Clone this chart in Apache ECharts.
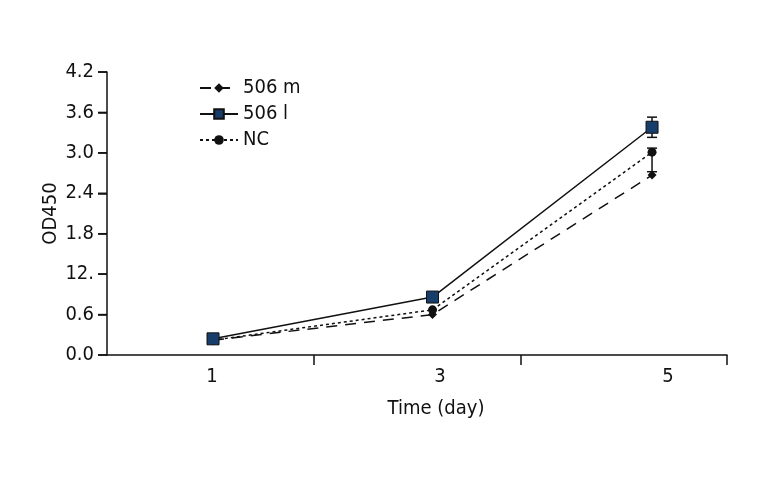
<!DOCTYPE html>
<html>
<head>
<meta charset="utf-8">
<script src="https://cdn.jsdelivr.net/npm/echarts@6/dist/echarts.min.js"></script>
<style>html,body{margin:0;padding:0;background:#fff}#c{width:768px;height:480px}</style>
</head>
<body>
<div id="c"></div>
<script>
// ---- data ----
const days = [1, 3, 5];
const xTickLabels = ['1', '3', '5'];
const yTickValues = [0, 0.6, 1.2, 1.8, 2.4, 3.0, 3.6, 4.2];
const yTickLabels = ['0.0', '0.6', '12.', '1.8', '2.4', '3.0', '3.6', '4.2'];
const seriesNames = ['506 m', '506 l', 'NC'];
const val506m = [0.22, 0.60, 2.67];
const val506l = [0.24, 0.86, 3.38];
const valNC = [0.22, 0.67, 3.01];
const err506lLow = [null, null, 3.23];
const err506lHigh = [null, null, 3.53];
const errNCLow = [null, null, 2.72];
const errNCHigh = [null, null, 3.07];

const FONT = "'Liberation Sans Narrow', 'DejaVu Sans Condensed', 'Arial Narrow', sans-serif";
const FS = 20;
const BLACK = '#111';

function pairs(vals) { return days.map((d, i) => [d, vals[i]]); }
function errData(lo, hi) {
  const out = [];
  days.forEach((d, i) => { if (lo[i] != null && hi[i] != null) out.push([d, lo[i], hi[i]]); });
  return out;
}

const chart = echarts.init(document.getElementById('c'), null, {renderer: 'canvas'});
const option = {
  backgroundColor: '#fff',
  animation: false,
  textStyle: {fontFamily: FONT},
  grid: {left: 107, right: 41, top: 72, bottom: 125},
  legend: {
    data: seriesNames,
    orient: 'vertical',
    left: 194,
    top: 73,
    itemWidth: 38,
    itemHeight: 12,
    itemGap: 6,
    textStyle: {fontFamily: FONT, fontSize: FS, color: BLACK}
  },
  xAxis: [
    {
      type: 'category',
      position: 'bottom',
      data: ['a', 'b', 'c'],
      boundaryGap: true,
      axisLine: {show: true, onZero: false, lineStyle: {color: BLACK, width: 1.5}},
      axisTick: {show: true, inside: false, interval: i => i !== 0, alignWithLabel: false, length: 10, lineStyle: {color: BLACK, width: 1.5}},
      axisLabel: {show: true, color: 'rgba(0,0,0,0)', fontSize: 1},
      splitLine: {show: false},
      name: 'Time (day)',
      nameLocation: 'middle',
      nameGap: 44,
      nameTextStyle: {fontFamily: FONT, fontSize: FS, color: BLACK, padding: [0, 0, 0, 38]}
    },
    {
      type: 'value',
      position: 'bottom',
      min: 0.034,
      max: 5.683,
      show: false
    },
    {
      type: 'value',
      position: 'bottom',
      offset: 0,
      min: 0.079,
      max: 5.518,
      axisLine: {show: false, onZero: false},
      axisTick: {show: false},
      splitLine: {show: false},
      axisLabel: {
        customValues: days,
        margin: 12,
        fontFamily: FONT, fontSize: FS, color: BLACK,
        formatter: v => xTickLabels[days.indexOf(Math.round(v))] || ''
      }
    }
  ],
  yAxis: {
    type: 'value',
    position: 'left',
    min: 0,
    max: 4.2,
    interval: 0.6,
    axisLine: {show: true, onZero: false, lineStyle: {color: BLACK, width: 1.5}},
    axisTick: {show: true, inside: false, length: 9, lineStyle: {color: BLACK, width: 1.5}},
    splitLine: {show: false},
    axisLabel: {
      margin: 13,
      fontFamily: FONT, fontSize: FS, color: BLACK,
      formatter: v => yTickLabels[Math.round(v / 0.6)]
    },
    name: 'OD450',
    nameLocation: 'middle',
    nameGap: 46,
    nameMoveOverlap: false,
    nameTextStyle: {fontFamily: FONT, fontSize: FS, color: BLACK}
  },
  series: [
    {
      name: '506 m', type: 'line', xAxisIndex: 1, data: pairs(val506m),
      symbol: 'diamond', symbolSize: 9,
      itemStyle: {color: BLACK},
      lineStyle: {color: BLACK, width: 1.5, type: [11, 8]},
      z: 3
    },
    {
      name: '506 l', type: 'line', xAxisIndex: 1, data: pairs(val506l),
      symbol: 'rect', symbolSize: 12,
      itemStyle: {color: '#173d6b', borderColor: BLACK, borderWidth: 1},
      lineStyle: {color: BLACK, width: 1.5, type: 'solid'},
      z: 4
    },
    {
      name: 'NC', type: 'line', xAxisIndex: 1, data: pairs(valNC),
      symbol: 'circle', symbolSize: 9,
      itemStyle: {color: BLACK},
      lineStyle: {color: BLACK, width: 1.5, type: [3, 3]},
      z: 3
    },
    {
      type: 'custom', xAxisIndex: 1, z: 2,
      data: errData(err506lLow, err506lHigh).concat(errData(errNCLow, errNCHigh)),
      renderItem: function (params, api) {
        const x = api.value(0);
        const lo = api.coord([x, api.value(1)]);
        const hi = api.coord([x, api.value(2)]);
        const w = 5;
        const st = {stroke: BLACK, lineWidth: 1.5};
        return {
          type: 'group',
          children: [
            {type: 'line', shape: {x1: lo[0], y1: lo[1], x2: hi[0], y2: hi[1]}, style: st},
            {type: 'line', shape: {x1: lo[0] - w, y1: lo[1], x2: lo[0] + w, y2: lo[1]}, style: st},
            {type: 'line', shape: {x1: hi[0] - w, y1: hi[1], x2: hi[0] + w, y2: hi[1]}, style: st}
          ]
        };
      }
    },
    {
      // y-axis tick marks, placed through the y scale
      type: 'custom', xAxisIndex: 1, z: 2, silent: true, clip: false,
      data: yTickValues.map(v => [days[0], v]),
      renderItem: function (params, api) {
        const y = api.coord([api.value(0), api.value(1)])[1];
        const x0 = params.coordSys.x;
        return {
          type: 'line',
          shape: {x1: x0 - 9, y1: y, x2: x0, y2: y},
          style: {stroke: BLACK, lineWidth: 1.5}
        };
      }
    }
  ]
};
chart.setOption(option);
</script>
</body>
</html>
